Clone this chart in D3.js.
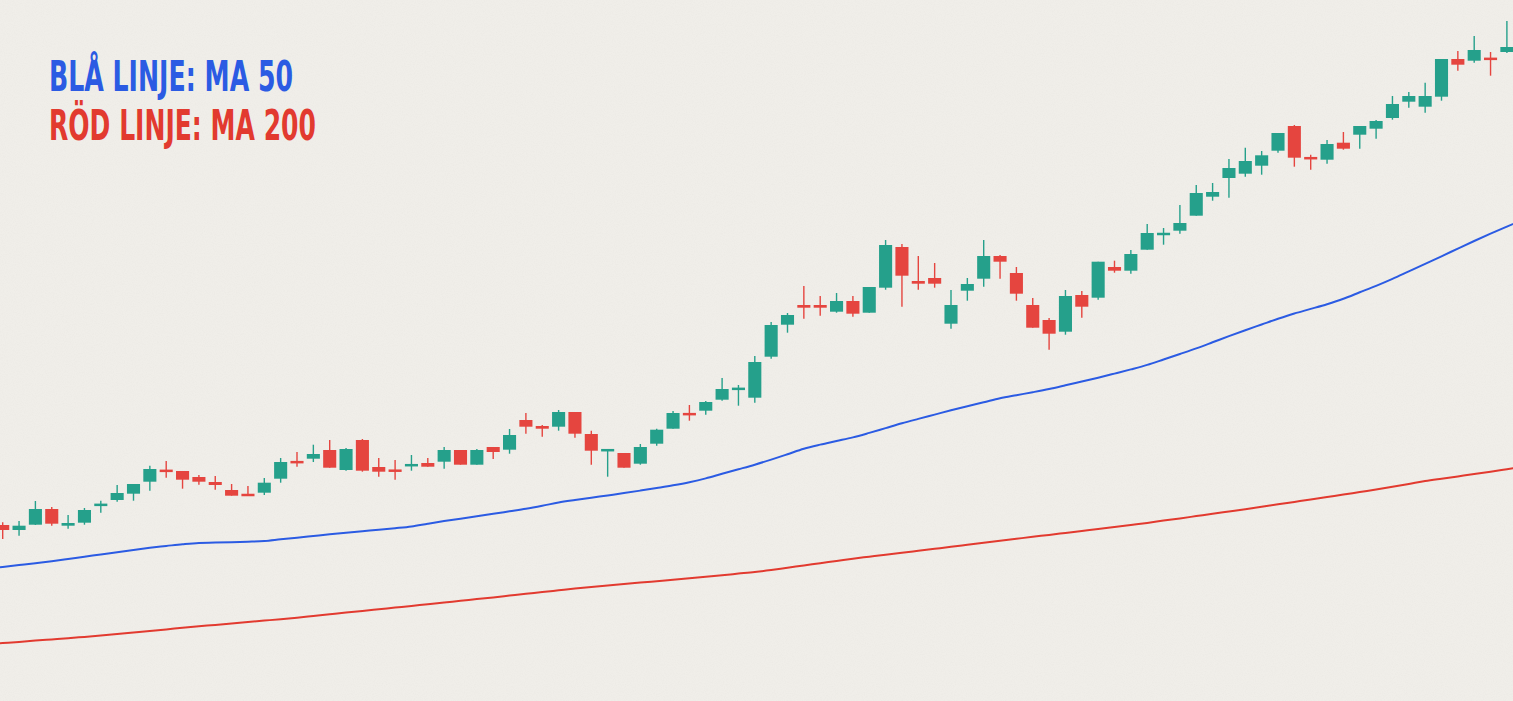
<!DOCTYPE html>
<html><head><meta charset="utf-8">
<script src="https://cdn.jsdelivr.net/npm/d3@7"></script>
<style>html,body{margin:0;padding:0;background:#f0eee9;overflow:hidden}</style>
</head><body><svg id="chart"></svg>
<script>
// Candle data (price units), one entry per trading day
const opens = [87.5,85,87.65,95.5,87.15,88.65,97.15,100,103.15,109.15,
115.15,114.5,111.5,109,105,103,103.65,110.65,119.35,120.65,
125,115,130,116.5,115.15,117.15,118.5,119.15,125,117.65,
126.5,125.15,140,137,136.65,144,133,124.65,123.5,118.15,
128.15,135.65,143.5,144.65,150.15,155.15,151.15,171.65,187.65,197.5,
197.5,194.15,199.5,193.65,206.15,226.5,209.5,211,188.15,204.65,
210.65,222,213.5,197.5,190,184.15,202.5,201.15,216.5,214.65,
225.15,232.65,234.65,242.15,251.65,261,263.15,267.15,274.65,287,
271.15,270.15,278.65,282.65,285.65,291,299.15,296.65,301.65,320.5,
319.65,321,324];
const highs = [88.85,89.5,99.5,96.5,92.5,96,99.65,107.5,108,117.15,
119.5,114.5,112.5,112,108,107,111,121,124,127.65,
130,126,130.5,121,120,122.5,121,126.5,125,125.5,
126.5,135.5,143.5,137.5,145,144,134.65,125.15,123.5,128,
135.65,144.5,147.5,149.5,161,157.5,172,189,193.5,207,
202,203.5,202,206.5,230,228,222,218.5,205,211,
230,222.5,216.5,201,191,205,204.5,219.15,219.65,225,
238,236,247.5,257.5,258.5,270.5,276.15,274.5,283.5,287.5,
272.65,280,284,287,290,302,304,308.65,320.5,324.5,
332,324,339.5];
const lows = [80.5,82.15,87.5,87.15,85.65,87.65,93.65,99.15,99.65,104.65,
111.15,105.65,107.65,105.15,102.15,102,102.5,108.65,116.65,119,
116.15,114.65,114.15,111.65,110.15,114.65,116.65,115.65,117.65,117.65,
120.5,123.15,133.15,131.65,134.65,131.15,117.65,111.65,116.15,117.65,
127.15,135.65,139.65,142.65,149.65,147.15,148.65,170.65,183.65,190.65,
192.15,193.65,191.65,193.65,205.15,196.65,205.15,206.15,185.65,199.65,
206.65,210.65,199.65,186.15,175.15,182.65,191.15,200.15,213.65,213.15,
225.15,227.65,233.15,242.15,249.65,251.15,261.65,262.65,273.65,266.65,
265.15,268.15,275.15,275.65,280.65,290.15,296.15,293.65,299.65,314.65,
318.65,312.15,323.5];
const closes = [85,87.15,95.5,88.15,88.5,95,98,103.5,108,115.5,
114,110.15,109.15,107.5,102.15,102,108.65,119,118.5,123,
116.15,125.5,114.65,114.15,114.15,117.65,116.65,125,117.65,125,
124,132.5,136.65,135.65,144,133.15,124.65,125.15,116.15,126.5,
135.15,143.5,142.35,149,155.5,156,169,187.5,192.5,196.15,
196.15,199.5,193.15,206.5,227.5,212.15,208.15,208.15,197.5,208,
222,219.15,203.15,186.15,183.15,202,196.65,219.15,214.65,223,
233.5,233.35,238.5,253.5,254,266,269.5,272.35,283.5,271.15,
270.65,278,275.65,287,289.5,298,302,302,320.5,317.65,
325,320.15,326.5];

// Moving averages, from the day before the first candle to the day after the last
const maStartDay = -1;
const ma50 = [65.55,66.5,67.45,68.4,69.38,70.5,71.65,72.75,73.9,75.05,
76.1,77,77.9,78.55,78.7,78.9,79.15,79.5,80.35,81.15,
82,82.85,83.65,84.4,85.1,85.9,86.8,88.15,89.45,90.65,
91.9,93.1,94.35,95.6,97.1,98.75,100,101.15,102.3,103.45,
104.7,106,107.35,108.9,110.8,113.1,115.35,117.65,120.2,122.9,
125.65,127.7,129.5,131.3,133.55,135.95,138.35,140.55,142.7,144.85,
146.9,148.85,150.85,152.4,153.9,155.5,157.35,159.25,161.15,163.2,
165.3,167.55,170.25,173,175.8,178.85,181.95,184.9,187.75,190.6,
193.25,195.55,197.9,200.6,203.85,207.1,210.6,214.35,218.1,221.85,
225.7,229.5,233.15,236.7,240.2];
const ma200 = [27.85,28.45,29.05,29.7,30.3,30.9,31.55,32.2,32.95,33.75,
34.55,35.3,36.1,36.85,37.55,38.3,39,39.7,40.4,41.15,
42,42.85,43.7,44.5,45.35,46.2,47.05,47.9,48.75,49.6,
50.45,51.3,52.2,53.1,53.95,54.85,55.75,56.55,57.25,57.95,
58.7,59.4,60.1,60.85,61.65,62.4,63.2,64,65,66.15,
67.25,68.4,69.5,70.65,71.65,72.65,73.6,74.6,75.6,76.6,
77.6,78.6,79.6,80.6,81.6,82.55,83.55,84.55,85.55,86.55,
87.55,88.55,89.7,90.8,91.95,93.1,94.25,95.4,96.6,97.85,
99.05,100.25,101.5,102.7,104,105.25,106.6,108,109.45,110.65,
111.8,112.95,114.15,115.4,116.65];

const legendLabels = ["BLÅ LINJE: MA 50", "RÖD LINJE: MA 200"];

const W = 1513, H = 701;
const colUp = "#25a08b", colDown = "#e5453f";
const colBlue = "#2b5be3", colRed = "#e23a2f";

const svg = d3.select("#chart").attr("width", W).attr("height", H);

// paper background
const defs = svg.append("defs");
const f = defs.append("filter").attr("id","paper").attr("x",0).attr("y",0).attr("width","100%").attr("height","100%");
f.append("feTurbulence").attr("type","fractalNoise").attr("baseFrequency",0.9).attr("numOctaves",2).attr("seed",3);
f.append("feColorMatrix").attr("type","matrix")
  .attr("values","0 0 0 0 0.55  0 0 0 0 0.53  0 0 0 0 0.5  0 0 0 -1.2 0.75");
svg.append("rect").attr("width",W).attr("height",H).attr("fill","#f0eee9");
svg.append("rect").attr("width",W).attr("height",H).attr("filter","url(#paper)").attr("opacity",0.12);

const n = opens.length;
const x = d3.scaleLinear().domain([0, n - 1]).range([2.7, 1506.9]);
const y = d3.scaleLinear().domain([0, 350]).range([700, 0]);
const bodyW = (x(1) - x(0)) * 0.8;

const candles = d3.range(n).map(i => ({i, o: opens[i], h: highs[i], l: lows[i], c: closes[i]}));

// moving average lines
const line = d3.line().x((d, k) => x(k + maStartDay)).y(d => y(d)).curve(d3.curveMonotoneX);
svg.append("path").datum(ma200).attr("d", line).attr("fill","none").attr("stroke",colRed).attr("stroke-width",2);
svg.append("path").datum(ma50).attr("d", line).attr("fill","none").attr("stroke",colBlue).attr("stroke-width",2);

const g = svg.append("g");
const cg = g.selectAll("g.c").data(candles).join("g")
  .attr("fill", d => d.c >= d.o ? colUp : colDown)
  .attr("stroke", d => d.c >= d.o ? colUp : colDown);
cg.append("line")
  .attr("x1", d => x(d.i)).attr("x2", d => x(d.i))
  .attr("y1", d => y(d.h)).attr("y2", d => y(d.l))
  .attr("stroke-width", 1.4);
cg.append("rect")
  .attr("stroke","none")
  .attr("x", d => x(d.i) - bodyW / 2)
  .attr("width", bodyW)
  .attr("y", d => { const t = y(Math.max(d.o, d.c)), b = y(Math.min(d.o, d.c)); return b - t < 2.5 ? (t + b) / 2 - 1.25 : t; })
  .attr("height", d => Math.max(2.5, Math.abs(y(d.o) - y(d.c))));

// legend text
const legend = svg.append("g");
const legendCols = [colBlue, colRed];
const legendBase = [91, 140];
const legendW = [244, 267];
legend.selectAll("text").data(legendLabels).join("text")
  .attr("x", 49).attr("y", (d, i) => legendBase[i])
  .attr("fill", (d, i) => legendCols[i])
  .attr("font-family", "'Liberation Sans Narrow','DejaVu Sans Condensed','Roboto Condensed',sans-serif")
  .attr("font-weight", "bold")
  .attr("font-size", 42)
  .attr("textLength", (d, i) => legendW[i])
  .attr("lengthAdjust", "spacingAndGlyphs")
  .text(d => d);
</script>
</body></html>
